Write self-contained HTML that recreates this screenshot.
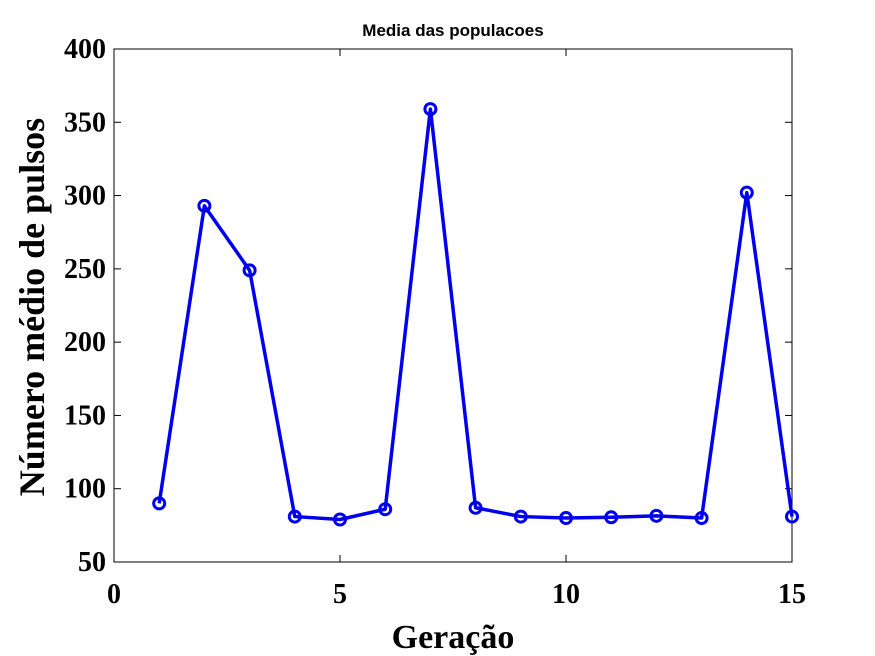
<!DOCTYPE html>
<html><head><meta charset="utf-8"><style>
body{margin:0;background:#fff;}
svg{display:block;}
</style></head><body>
<svg id="chart" width="875" height="656" xmlns="http://www.w3.org/2000/svg">
<rect x="0" y="0" width="875" height="656" fill="#fff"/>
<g id="axes"></g>
<g id="series"></g>
<text x="453" y="36" text-anchor="middle" font-family="Liberation Sans, sans-serif" font-weight="bold" font-size="17">Media das populacoes</text>
<text x="453" y="648" text-anchor="middle" font-family="Liberation Serif, serif" font-weight="bold" font-size="34">Geração</text>
<text transform="translate(44,307) rotate(-90)" text-anchor="middle" font-family="Liberation Serif, serif" font-weight="bold" font-size="36">Número médio de pulsos</text>
</svg>
<script>
const generations=[1,2,3,4,5,6,7,8,9,10,11,12,13,14,15];
const meanPulses=[90,293,249,81,79,86,359,87,81,80,80.5,81.5,80,302,81];
const xTicks=[0,5,10,15];
const yTicks=[50,100,150,200,250,300,350,400];
const L=114,R=792,T=49,B=562;
const xS=v=>L+(v-0)/(15-0)*(R-L);
const yS=v=>B-(v-50)/(400-50)*(B-T);
const NS='http://www.w3.org/2000/svg';
function mk(t,a,p){const e=document.createElementNS(NS,t);for(const k in a)e.setAttribute(k,a[k]);p.appendChild(e);return e;}
const ax=document.getElementById('axes');
const box=mk('rect',{x:L,y:T,width:R-L,height:B-T,fill:'none',stroke:'#000','stroke-width':1},ax);


xTicks.forEach(v=>{
 const x=xS(v);
 mk('line',{x1:x,y1:B,x2:x,y2:B-7,stroke:'#000'},ax);
 mk('line',{x1:x,y1:T,x2:x,y2:T+7,stroke:'#000'},ax);
 const t=mk('text',{x:x,y:B+41,'text-anchor':'middle','font-family':'Liberation Serif, serif','font-weight':'bold','font-size':28},ax);
 
 
 t.textContent=v;
});
yTicks.forEach(v=>{
 const y=yS(v);
 mk('line',{x1:L,y1:y,x2:L+7,y2:y,stroke:'#000'},ax);
 mk('line',{x1:R,y1:y,x2:R-7,y2:y,stroke:'#000'},ax);
 const t=mk('text',{x:L-8,y:y+9,'text-anchor':'end','font-family':'Liberation Serif, serif','font-weight':'bold','font-size':28},ax);
 
 
 t.textContent=v;
});
const sg=document.getElementById('series');
const pts=generations.map((g,i)=>xS(g)+','+yS(meanPulses[i])).join(' ');
const pl=mk('polyline',{points:pts,fill:'none',stroke:'#0000ee','stroke-width':3.5,'stroke-linejoin':'round'},sg);


generations.forEach((g,i)=>{
 const c=mk('circle',{cx:xS(g),cy:yS(meanPulses[i]),r:5.5,fill:'none',stroke:'#0000ee','stroke-width':3},sg);
 
 
});
</script>
</body></html>
